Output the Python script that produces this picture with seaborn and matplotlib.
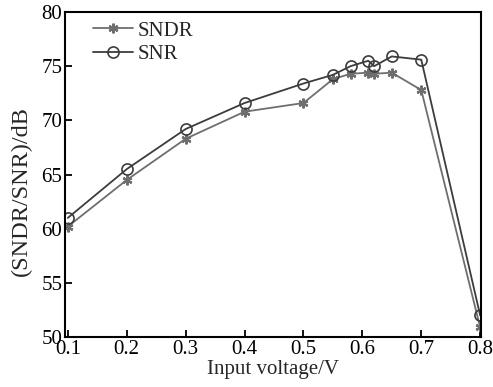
import matplotlib
matplotlib.use("Agg")
import matplotlib.pyplot as plt
import seaborn as sns
import pandas as pd

voltage = [0.1, 0.2, 0.3, 0.4, 0.5, 0.55, 0.58, 0.61, 0.62, 0.65, 0.7, 0.8]
sndr = [60.2, 64.5, 68.3, 70.8, 71.6, 73.8, 74.3, 74.4, 74.3, 74.4, 72.8, 50.9]
snr = [61.0, 65.5, 69.2, 71.6, 73.4, 74.2, 75.0, 75.5, 75.0, 75.9, 75.6, 52.0]
yticks = [50, 55, 60, 65, 70, 75, 80]
xticks = [0.1, 0.2, 0.3, 0.4, 0.5, 0.6, 0.7, 0.8]

sns.set_style("white")
plt.rcParams['font.family'] = ['Liberation Serif', 'DejaVu Serif']
plt.rcParams['mathtext.fontset'] = 'stix'

fig = plt.figure(figsize=(4.93, 3.87), dpi=100)
ax = fig.add_axes([0.132, 0.129, 0.844, 0.840])

df1 = pd.DataFrame({"x": voltage, "y": sndr})
df2 = pd.DataFrame({"x": voltage, "y": snr})
sns.lineplot(data=df1, x="x", y="y", ax=ax, color="#6e6e6e", lw=1.3,
             marker=(6, 2, 0), markersize=7, markeredgewidth=1.6,
             markeredgecolor="#6e6e6e", label="SNDR")
sns.lineplot(data=df2, x="x", y="y", ax=ax, color="#3c3c3c", lw=1.3,
             marker="o", markersize=8, markerfacecolor="none",
             markeredgewidth=1.2, markeredgecolor="#3c3c3c", label="SNR")

ax.set_xlim(0.0953, 0.8017)
ax.set_ylim(50, 80)
ax.set_xticks(xticks)
ax.set_xticklabels([f"{v:.1f}" for v in xticks])
ax.set_yticks(yticks)
ax.tick_params(direction="in", length=5, width=1.3, labelsize=15, pad=2,
               colors="black", bottom=True, left=True)
for s in ax.spines.values():
    s.set_color("black")
    s.set_linewidth(1.5)
ax.set_xlabel("Input voltage/V", fontsize=15, labelpad=1)
ax.set_ylabel("(SNDR/SNR)/dB", fontsize=17.5)
ax.yaxis.set_label_coords(-0.079, 0.448)
leg = ax.legend(loc="upper left", frameon=False, fontsize=15,
                bbox_to_anchor=(0.067, 0.972), handlelength=1.9,
                handletextpad=0.25, labelspacing=0.2, borderaxespad=0,
                borderpad=0)
fig.savefig("out.png", dpi=100)
